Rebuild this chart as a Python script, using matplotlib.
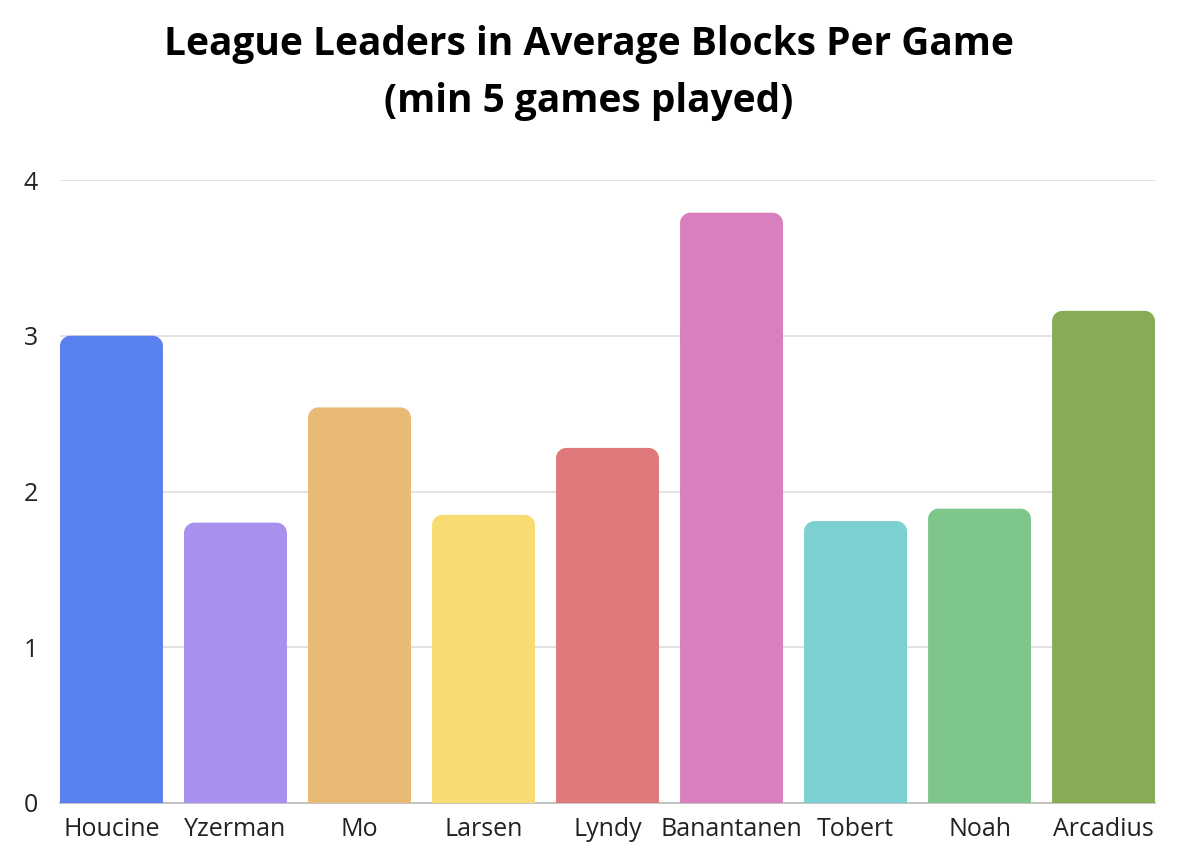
import matplotlib.pyplot as plt
from matplotlib.path import Path
from matplotlib.patches import PathPatch

players = ['Houcine', 'Yzerman', 'Mo', 'Larsen', 'Lyndy', 'Banantanen',
           'Tobert', 'Noah', 'Arcadius']
blocks = [3.0, 1.80, 2.54, 1.85, 2.28, 3.79, 1.81, 1.89, 3.16]
colors = ['#5880EE', '#A891EE', '#E9BA76', '#F8DC72', '#DF7A7C',
          '#D97EBF', '#7DD0D2', '#7EC68A', '#88AB56']
yticks = [0, 1, 2, 3, 4]


def rounded_top(x0, w, h, rx, ry):
    # bar outline with rounded top corners (bezier quarter arcs)
    k = 0.5523
    x1 = x0 + w
    verts = [(x0, 0), (x0, h - ry),
             (x0, h - ry + k * ry), (x0 + rx - k * rx, h), (x0 + rx, h),
             (x1 - rx, h),
             (x1 - rx + k * rx, h), (x1, h - ry + k * ry), (x1, h - ry),
             (x1, 0), (x0, 0)]
    codes = [Path.MOVETO, Path.LINETO,
             Path.CURVE4, Path.CURVE4, Path.CURVE4,
             Path.LINETO,
             Path.CURVE4, Path.CURVE4, Path.CURVE4,
             Path.LINETO, Path.CLOSEPOLY]
    return Path(verts, codes)


fig = plt.figure(figsize=(11.78, 8.56), dpi=100)
ax = fig.add_axes([60 / 1178, 1 - 803 / 856, 1095 / 1178, 623 / 856])

bars = ax.bar(range(len(players)), blocks, width=0.83, color=colors)
for b in bars:
    b.set_visible(False)
    p = rounded_top(b.get_x(), b.get_width(), b.get_height(), 0.085, 0.066)
    ax.add_patch(PathPatch(p, facecolor=b.get_facecolor(), edgecolor='none',
                           zorder=3))

ax.set_xlim(-0.415, len(players) - 1 + 0.415)
ax.set_ylim(0, 4)
ax.set_yticks(yticks)
ax.set_xticks(range(len(players)))
ax.set_xticklabels(players)
ax.grid(axis='y', color='#DDDDDD', linewidth=1.2, zorder=0)
ax.set_axisbelow(True)
for s in ['top', 'right', 'left']:
    ax.spines[s].set_visible(False)
ax.spines['bottom'].set_color('#BBBBBB')
ax.spines['bottom'].set_linewidth(1.2)
ax.tick_params(axis='both', length=0, labelsize=18, colors='#222222')
ax.tick_params(axis='y', pad=16)
ax.tick_params(axis='x', pad=10)
for lab in ax.get_xticklabels() + ax.get_yticklabels():
    lab.set_fontfamily('Open Sans')

fig.text(0.5, 1 - 73 / 856,
         'League Leaders in Average Blocks Per Game\n(min 5 games played)',
         ha='center', va='center', fontsize=28, fontweight='bold',
         fontfamily='Open Sans', linespacing=1.6, color='black')

fig.savefig('out.png', dpi=100, facecolor='white')
